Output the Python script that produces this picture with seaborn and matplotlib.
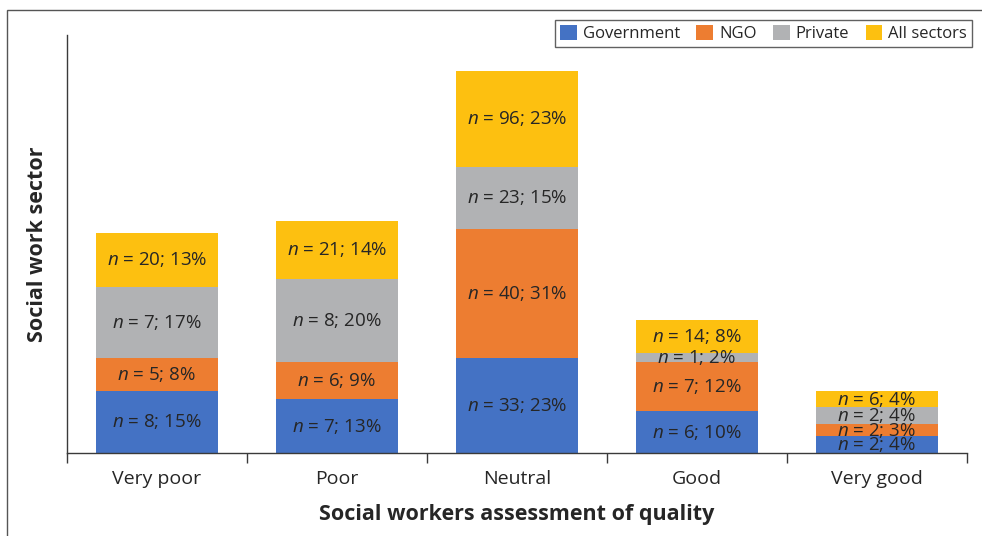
import matplotlib
matplotlib.use("Agg")
import matplotlib.pyplot as plt
from matplotlib.patches import Rectangle
import seaborn as sns
import numpy as np

categories = ["Very poor", "Poor", "Neutral", "Good", "Very good"]
series_names = ["Government", "NGO", "Private", "All sectors"]

gov_n = [8, 7, 33, 6, 2]
gov_pct = [15, 13, 23, 10, 4]
ngo_n = [5, 6, 40, 7, 2]
ngo_pct = [8, 9, 31, 12, 3]
private_n = [7, 8, 23, 1, 2]
private_pct = [17, 20, 15, 2, 4]
all_n = [20, 21, 96, 14, 6]
all_pct = [13, 14, 23, 8, 4]

colors = ["#4472C4", "#ED7D31", "#B1B2B4", "#FDC010"]

sns.set_theme(style="white")
FONT = "Open Sans"
plt.rcParams["font.family"] = [FONT, "DejaVu Sans"]
plt.rcParams["mathtext.fontset"] = "custom"
plt.rcParams["mathtext.it"] = f"{FONT}:italic"
plt.rcParams["mathtext.rm"] = FONT

TEXT = "#262626"

fig = plt.figure(figsize=(9.82, 5.36), dpi=100)
ax = fig.add_axes([67 / 982, 83 / 536, 900 / 982, 418 / 536])

series = [
    (gov_n, gov_pct),
    (ngo_n, ngo_pct),
    (private_n, private_pct),
    (all_n, all_pct),
]

bottom = np.zeros(len(categories))
for (ns, pcts), name, col in zip(series, series_names, colors):
    vals = np.array(pcts, dtype=float)
    sns.barplot(x=categories, y=vals, bottom=bottom, color=col, width=0.68,
                saturation=1, ax=ax, label=name, linewidth=0)
    for i, (n, p) in enumerate(zip(ns, pcts)):
        ax.text(i, bottom[i] + p / 2, f"$n$ = {n}; {p}%", ha="center",
                va="center", fontsize=13.5, color=TEXT)
    bottom += vals

ax.set_xlim(-0.5, len(categories) - 0.5)
ax.set_ylim(0, 100.7)
ax.set_yticks([])

for s in ["top", "right"]:
    ax.spines[s].set_visible(False)
for s in ["left", "bottom"]:
    ax.spines[s].set_color("#3a3a3a")
    ax.spines[s].set_linewidth(1.0)

ax.set_xticks(range(len(categories)))
ax.set_xticklabels(categories, fontsize=14, color=TEXT)
ax.set_xticks(np.arange(-0.5, len(categories)), minor=True)
ax.tick_params(axis="x", which="major", length=0, pad=12)
ax.tick_params(axis="x", which="minor", length=7, width=1.0, color="#3a3a3a",
               direction="out", bottom=True)

ax.set_xlabel("Social workers assessment of quality", fontsize=15.5,
              fontweight="bold", color=TEXT, labelpad=12)
ax.set_ylabel("Social work sector", fontsize=15.5, fontweight="bold",
              color=TEXT, labelpad=14)

handles, labels = ax.get_legend_handles_labels()
if ax.get_legend() is not None:
    ax.get_legend().remove()
leg = fig.legend(handles, labels, loc="upper left", ncol=4,
                 bbox_to_anchor=(555 / 982, 1 - 20 / 536), borderaxespad=0,
                 frameon=True, fontsize=12, handlelength=1.0,
                 handleheight=1.0, handletextpad=0.35, columnspacing=1.0,
                 borderpad=0.3, fancybox=False)
leg.get_frame().set_edgecolor("#3a3a3a")
leg.get_frame().set_linewidth(1.0)
for t in leg.get_texts():
    t.set_color(TEXT)

# outer frame around the figure
fig.patches.append(Rectangle((7 / 982, -0.05), 1.0, 1 - 10 / 536 + 0.05,
                             transform=fig.transFigure, fill=False,
                             edgecolor="#555555", linewidth=1.0))

fig.savefig("out.png", dpi=100)
